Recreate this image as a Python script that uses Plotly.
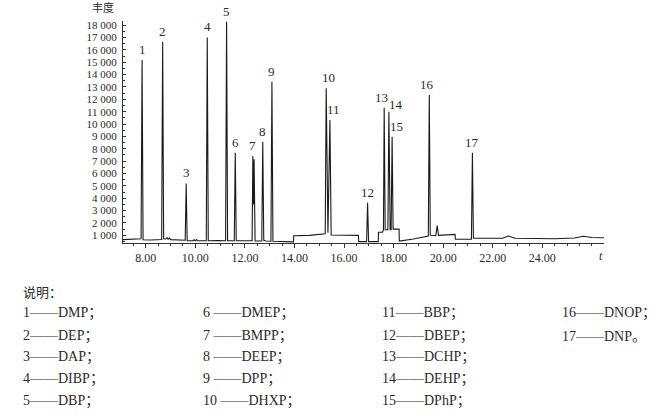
import plotly.graph_objects as go

# ---------------- data ----------------
# labelled peaks: retention time (min), apex abundance, peak number
peak_rt = [7.85, 8.68, 9.63, 10.48, 11.26, 11.61, 12.32, 12.72, 13.09,
           15.28, 15.43, 16.95, 17.62, 17.81, 17.94, 19.44, 21.18]
peak_h = [15170, 16660, 5200, 17000, 18270, 7680, 7410, 8570, 13420,
          12890, 10320, 3640, 11320, 11000, 8970, 12340, 7680]
peak_no = ["1", "2", "3", "4", "5", "6", "7", "8", "9",
           "10", "11", "12", "13", "14", "15", "16", "17"]

# unlabelled apexes / valleys (shoulder of 7, small bumps)
minor_rt = [8.86, 8.95, 9.95, 10.05, 12.345, 12.37, 15.35, 19.76, 22.63, 25.66]
minor_h = [820, 780, 640, 660, 3500, 7150, 1200, 1780, 945, 920]

# baseline vertices (feet of peaks, steps of the baseline)
base_t = [7.08, 7.50, 7.81, 7.89, 8.20, 8.64, 8.72, 8.80, 8.90, 9.00,
          9.59, 9.67, 9.90, 10.00, 10.10, 10.44, 10.52, 10.90, 11.22, 11.30,
          11.57, 11.65, 12.00, 12.29, 12.41, 12.68, 12.76, 12.85, 13.05, 13.13,
          13.96, 13.97, 14.60, 15.24, 15.48, 16.00, 16.58, 16.59, 16.91, 16.99,
          17.38, 17.39, 17.55, 17.56, 17.59, 17.66, 17.77, 17.86, 17.90, 17.98,
          18.22, 18.23, 18.80, 19.40, 19.48, 19.70, 19.81, 20.10, 20.48, 20.49,
          21.14, 21.22, 22.40, 22.90, 24.50, 25.30, 26.00, 26.49]
base_y = [650, 680, 720, 640, 620, 660, 720, 700, 690, 650,
          600, 560, 560, 560, 560, 560, 560, 580, 560, 560,
          560, 560, 540, 560, 540, 540, 600, 540, 520, 520,
          470, 970, 1000, 1130, 1030, 1010, 1000, 490, 490, 490,
          490, 1250, 1250, 1450, 1450, 1450, 1450, 1450, 1450, 1500,
          1500, 540, 700, 945, 1000, 970, 1000, 1050, 1080, 680,
          680, 760, 760, 760, 720, 780, 820, 810]

y_tick_vals = [1000 * i for i in range(1, 19)]
y_tick_text = ["1 000", "2 000", "3 000", "4 000", "5 000", "6 000", "7 000",
               "8 000", "9 000", "10 000", "11 000", "12 000", "13 000",
               "14 000", "15 000", "16 000", "17 000", "18 000"]
x_tick_vals = [8, 10, 12, 14, 16, 18, 20, 22, 24]
x_tick_text = ["8.00", "10.00", "12.00", "14.00", "16.00", "18.00",
               "20.00", "22.00", "24.00"]

legend_rows = [
    ["1——DMP；", "6 ——DMEP；", "11——BBP；", "16——DNOP；"],
    ["2——DEP；", "7 ——BMPP；", "12——DBEP；", "17——DNP。"],
    ["3——DAP；", "8 ——DEEP；", "13——DCHP；", ""],
    ["4——DIBP；", "9 ——DPP；", "14——DEHP；", ""],
    ["5——DBP；", "10 ——DHXP；", "15——DPhP；", ""],
]

# ---------------- build trace by merging read vertices ----------------
pts = list(zip(base_t, base_y)) + list(zip(peak_rt, peak_h)) + list(zip(minor_rt, minor_h))
pts.sort(key=lambda p: p[0])
tr_t = [p[0] for p in pts]
tr_y = [p[1] for p in pts]

SERIF = "Liberation Serif, Times New Roman, Noto Sans CJK SC, serif"
TXT = "#2a2a2a"

fig = go.Figure()
fig.add_trace(go.Scatter(x=tr_t, y=tr_y, mode="lines",
                         line=dict(color="#1a1a1a", width=1.1),
                         hoverinfo="skip", showlegend=False))

# peak number labels (pixel nudges only)
xshift = {"10": 2, "11": 4, "13": -3, "14": 7, "15": 4, "16": -2}
yshift = {"14": -2}
for rt, h, n in zip(peak_rt, peak_h, peak_no):
    fig.add_annotation(x=rt, y=h, text=n, showarrow=False, xref="x", yref="y",
                       yanchor="bottom", yshift=yshift.get(n, 1),
                       xshift=xshift.get(n, 0),
                       font=dict(family=SERIF, size=13, color=TXT))

# pixel -> paper helper for layout text
L, R, T, B = 123, 604, 21, 243
def px(x, y):
    return (x - L) / (R - L), (B - y) / (B - T)

def text_at(x, y, s, size, xanchor="left", italic=False):
    xp, yp = px(x, y)
    fig.add_annotation(x=xp, y=yp, xref="paper", yref="paper", text=s,
                       showarrow=False, xanchor=xanchor, yanchor="middle",
                       font=dict(family=SERIF, size=size, color=TXT,
                                 style="italic" if italic else "normal"))

text_at(103, 7.5, "丰度", 11, xanchor="center")
text_at(601, 256, "t", 12, xanchor="center", italic=True)
text_at(21, 292, "说明：", 13)

col_x = [21, 201, 380, 560]
row_y = [313, 336, 357, 379, 401]
for r, row in enumerate(legend_rows):
    for c, s in enumerate(row):
        if s:
            text_at(col_x[c], row_y[r], s, 14)

fig.update_layout(
    width=667, height=419,
    margin=dict(l=L, r=667 - R, t=T, b=419 - B, pad=0),
    paper_bgcolor="white", plot_bgcolor="white",
    xaxis=dict(range=[7.08, 26.49], showgrid=False, zeroline=False,
               showline=True, linecolor="#333", linewidth=1,
               tickmode="array", tickvals=x_tick_vals, ticktext=x_tick_text,
               ticks="outside", ticklen=4, tickcolor="#333",
               minor=dict(dtick=0.5, ticks="outside", ticklen=2, tickcolor="#333"),
               tickfont=dict(family=SERIF, size=12, color=TXT)),
    yaxis=dict(range=[380, 18330], showgrid=False, zeroline=False,
               showline=True, linecolor="#333", linewidth=1,
               tickmode="array", tickvals=y_tick_vals, ticktext=y_tick_text,
               ticks="inside", ticklen=3, tickcolor="#333",
               minor=dict(dtick=500, ticks="inside", ticklen=2, tickcolor="#333"),
               ticklabelstandoff=3,
               tickfont=dict(family=SERIF, size=11, color=TXT)),
)

fig.write_html("out.html")
